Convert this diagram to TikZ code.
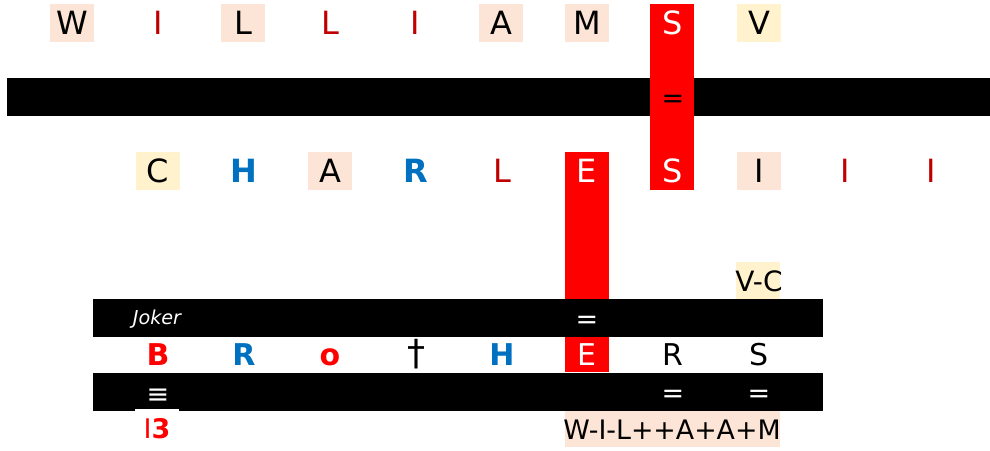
\documentclass[tikz,border=0pt]{standalone}
\usepackage{fontspec}
\setmainfont{DejaVu Sans}
\definecolor{peach}{HTML}{FCE4D6}
\definecolor{cream}{HTML}{FFF2CC}
\definecolor{dkred}{HTML}{C00000}
\definecolor{xblue}{HTML}{0070C0}
\newcommand{\bigf}{\fontsize{16}{18}\selectfont}
\newcommand{\midf}{\fontsize{15}{17}\selectfont}
\newcommand{\smf}{\fontsize{9.6}{11}\selectfont}

\begin{document}
\begin{tikzpicture}[x=0.5pt,y=-0.5pt,
  lt/.style={inner sep=0pt,minimum width=22pt,minimum height=19pt,text height=11.6pt,text depth=0pt,font=\bigf},
  lo/.style={lt,font=\midf,text height=10.9pt},
  pk/.style={fill=peach}, cr/.style={fill=cream},
  dr/.style={text=dkred}, wh/.style={text=white}, bk/.style={text=black},
  bl/.style={text=xblue,font=\bigf\bfseries},
  blo/.style={text=xblue,font=\midf\bfseries},
  rbo/.style={text=red,font=\midf\bfseries},
  dg/.style={text=black,font=\fontsize{18}{20}\selectfont},
  eqs/.style={inner sep=0pt,yshift=-2pt,font=\fontsize{13.5}{16}\selectfont}]
  \useasboundingbox (0,0) rectangle (990,450);
  % bars and columns
  \fill[black] (7,78) rectangle (990,116);
  \fill[red] (650,4) rectangle (694,190);
  \fill[red] (565,152) rectangle (609,372);
  \fill[black] (93,299) rectangle (823,337);
  \fill[black] (93,373) rectangle (823,411);
  \fill[cream] (736,262) rectangle (780,299);
  \fill[peach] (565,411) rectangle (780,447);
  % top name
  \foreach \lab/\x/\sty in {W/72/pk,I/158/dr,L/243/pk,L/330/dr,I/415/dr,A/501/pk,M/587/pk,S/673/wh,V/759/cr}
    \node[lt,\sty] (w\x) at (\x,23) {\lab};
  \node[eqs] (eqtop) at (673,97) {=};
  % second name
  \foreach \lab/\x/\sty in {C/158/cr,H/244/bl,A/330/pk,R/416/bl,L/502/dr,E/587/wh,S/673/wh,I/759/pk,I/845/dr,I/931/dr}
    \node[lt,\sty] (c\x) at (\x,171) {\lab};
  % bottom rows
  \node[inner sep=0pt,text=white,font=\smf\itshape] (joker) at (157,319) {Joker};
  \node[eqs,wh] (eqE) at (587,318) {=};
  \node[inner sep=0pt,font=\fontsize{14}{16}\selectfont] (vc) at (759,281) {V-C};
  \foreach \lab/\x/\sty in {B/158/rbo,R/244/blo,o/330/rbo,†/416/dg,H/502/blo,E/587/wh,R/673/bk,S/759/bk}
    \node[lo,\sty] (b\x) at (\x,355) {\lab};
  \node[eqs,wh] (tri) at (158,392) {≡};
  \node[eqs,wh] (eqR) at (673,392) {=};
  \node[eqs,wh] (eqS) at (759,392) {=};
  \node[lo,fill=white,text=red,font=\fontsize{13.5}{16}\selectfont\bfseries] (bthree) at (157,428) {{\mdseries I}3};
  \node[inner sep=0pt,font=\fontsize{13.4}{15}\selectfont] (wil) at (672,430) {W-I-L++A+A+M};
\end{tikzpicture}
\end{document}
